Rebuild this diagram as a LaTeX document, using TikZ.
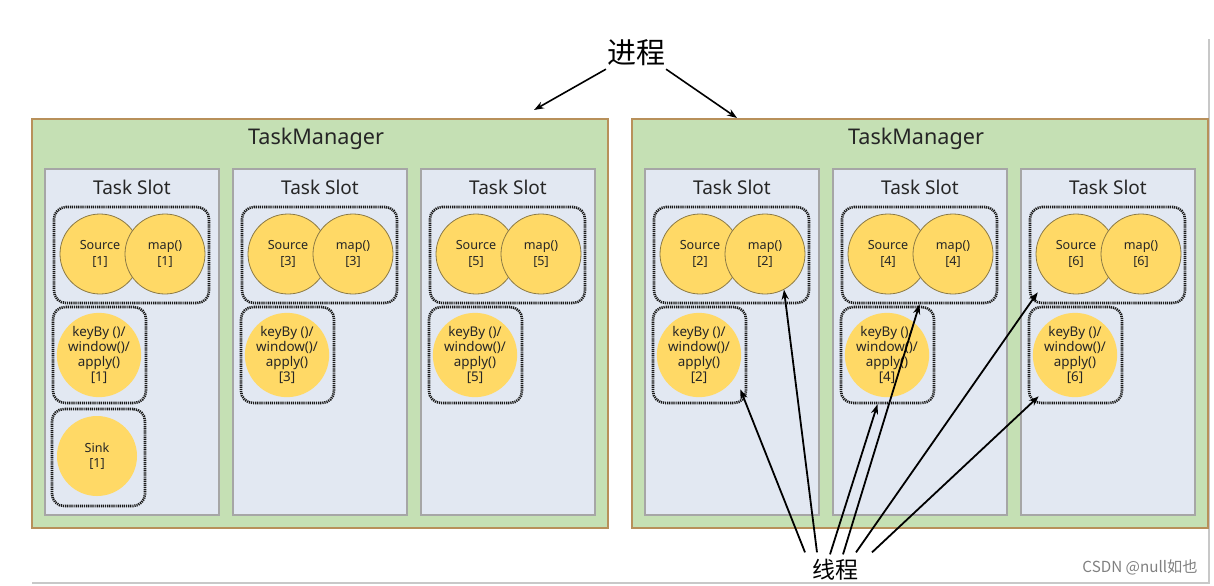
\documentclass[tikz,border=0pt]{standalone}
\usepackage{fontspec}
\setmainfont{Noto Sans}
\newfontfamily\cjk{Noto Sans CJK SC}
\usepackage{tikz}
\usetikzlibrary{positioning}
\usetikzlibrary{fit}
\usetikzlibrary{arrows.meta}

\definecolor{tmgreen}{HTML}{C5E0B4}
\definecolor{tmedge}{HTML}{B8905A}
\definecolor{slotfill}{HTML}{E2E8F2}
\definecolor{slotedge}{HTML}{A6A6A6}
\definecolor{opfill}{HTML}{FFD966}
\definecolor{opedge}{HTML}{8C7A45}
\definecolor{framegray}{HTML}{C8C8C8}

\tikzset{
  tm/.style={draw=tmedge, line width=1pt, fill=tmgreen, inner sep=0pt},
  slot/.style={draw=slotedge, line width=0.8pt, fill=slotfill, inner sep=0pt},
  grp/.style={draw=black!90, line width=1.3pt, dash pattern=on 0.6pt off 0.45pt, rounded corners=6pt, inner sep=0pt},
  op/.style={circle, fill=opfill, minimum size=40pt, inner sep=0pt, align=center, text=black!85,
    font=\fontsize{6.3}{7.8}\selectfont},
  opline/.style={op, draw=opedge, line width=0.4pt},
  kbop/.style={op, font=\fontsize{6.7}{7.5}\selectfont},
  tmtitle/.style={text=black!85, font=\fontsize{10.8}{13}\selectfont},
  slottitle/.style={text=black!85, font=\fontsize{9.5}{11}\selectfont},
  ptr/.style={-{Stealth[length=5pt,width=3.6pt]}, line width=0.9pt},
}

\begin{document}
\begin{tikzpicture}[x=0.5pt, y=-0.5pt]
  \useasboundingbox (0,0) rectangle (1214,585);
  \draw[framegray, line width=0.8pt] (1209,39) -- (1209,583) -- (32,583);

  \foreach \tx/\t in {0/1,600/2}{
    \node[tm, fit={(\tx+32,119) (\tx+608,528)}] (tm\t) {};
    \node[tmtitle] (tmtitle\t) at (\tx+316,139) {TaskManager};
    \foreach \k in {1,2,3}{
      \pgfmathsetmacro\sx{\tx+45+188*(\k-1)}
      \pgfmathtruncatemacro\n{2*\k-2+\t}
      \node[slot, fit={(\sx,169) (\sx+174,515)}] (slot\n) {};
      \node[slottitle] (slottitle\n) at (\sx+87,187) {Task Slot};
      \node[opline] (src\n) at (\sx+55,254) {Source\\{[}\n{]}};
      \node[opline] (map\n) at (\sx+120,254) {map()\\{[}\n{]}};
      \node[grp, fit={(\sx+9,207) (\sx+164,303)}] (gtop\n) {};
      \node[kbop] (kb\n) at (\sx+54,355) {keyBy ()/\\window()/\\apply()\\{[}\n{]}};
      \node[grp, fit={(\sx+8,307) (\sx+101,403)}] (gkb\n) {};
    }
  }

  \node[op] (sink1) at (97,456) {Sink\\{[}1{]}};
  \node[grp, fit={(52,409) (145,506)}] (gsink1) {};

  \node[font=\cjk\fontsize{14.5}{16}\selectfont] (proc) at (636,53) {进程};
  \draw[ptr, line width=0.8pt] ([shift={(6,-4)}]proc.south west) -- ([shift={(-75,-8)}]tm1.north east);
  \draw[ptr, line width=0.8pt] ([shift={(-6,-4)}]proc.south east) -- ([shift={(106,0)}]tm2.north west);

  \node[font=\cjk\fontsize{11.5}{13}\selectfont] (thr) at (835,570) {线程};
  \draw[ptr] ([shift={(-30,0)}]thr.north) -- ([shift={(-7,-15)}]gkb2.south east);
  \draw[ptr] ([shift={(-18,0)}]thr.north) -- (map2.-62);
  \draw[ptr] ([shift={(-5,2)}]thr.north) -- ([shift={(-10,0)}]gkb4.south);
  \draw[ptr] ([shift={(8,2)}]thr.north) -- (gtop4.south);
  \draw[ptr] ([shift={(21,0)}]thr.north) -- ([shift={(9,-12)}]gtop6.south west);
  \draw[ptr] ([shift={(37,0)}]thr.north) -- ([shift={(11,-8)}]gkb6.south west);

  \node[text=gray, font=\cjk\fontsize{7.6}{9}\selectfont] (mark) at (1140,567) {CSDN @null如也};
\end{tikzpicture}
\end{document}
